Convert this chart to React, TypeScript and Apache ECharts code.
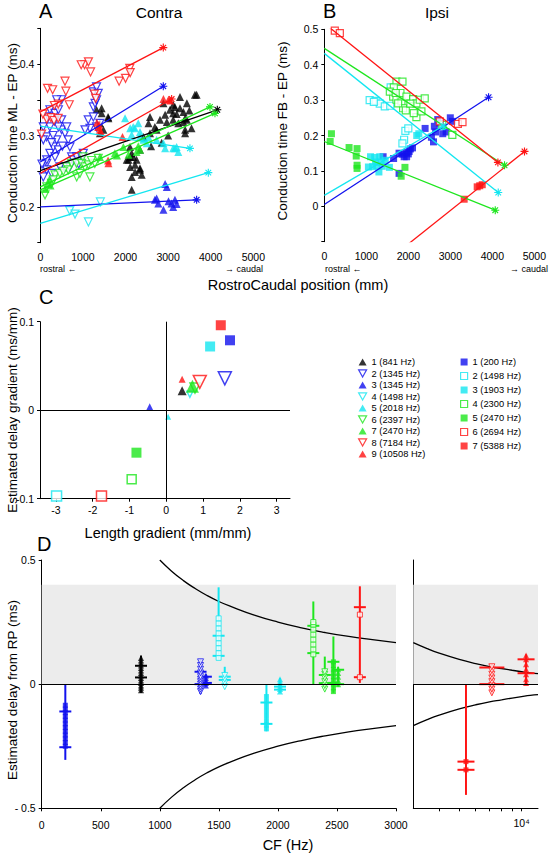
import React, { useEffect, useRef } from "react";
import * as echarts from "echarts";

const FONT = '"Liberation Sans", Arial, Helvetica, sans-serif';
const RED = "#ff1414";
const BLUE = "#1212ee";
const CYAN = "#14e6f0";
const GREEN = "#1ee61e";
const BLACK = "#000000";

// ---------- legend names ----------
const contraNames = ["1 (841 Hz)", "2 (1345 Hz)", "3 (1345 Hz)", "4 (1498 Hz)", "5 (2018 Hz)", "6 (2397 Hz)", "7 (2470 Hz)", "8 (7184 Hz)", "9 (10508 Hz)"];
const ipsiNames = ["1 (200 Hz)", "2 (1498 Hz)", "3 (1903 Hz)", "4 (2300 Hz)", "5 (2470 Hz)", "6 (2694 Hz)", "7 (5388 Hz)"];

// ---------- Panel A (Contra): [rostrocaudal position mm, conduction time ML-EP ms] ----------
const aContra1 = [[1320,0.336],[1440,0.331],[1600,0.324],[1400,0.317],[1480,0.308],[1400,0.303],[1590,0.326],[1440,0.338],[2105,0.284],[2180,0.27],[2030,0.266],[2145,0.242],[2145,0.224],[2340,0.252],[2070,0.266],[2110,0.256],[2145,0.275],[2340,0.254],[2225,0.249],[2260,0.266],[2380,0.245],[2225,0.259],[2340,0.28],[2110,0.27],[2420,0.298],[2575,0.303],[2690,0.312],[2810,0.322],[2930,0.329],[3045,0.336],[3120,0.331],[3280,0.338],[3360,0.333],[3440,0.345],[3630,0.357],[3280,0.354],[2890,0.345],[3120,0.322],[3240,0.317],[3400,0.308],[2730,0.308],[2575,0.326],[2540,0.317],[2970,0.319],[3440,0.322],[3360,0.319],[3160,0.34],[3120,0.343],[3670,0.357],[3550,0.31],[3400,0.303],[3400,0.324],[3000,0.3],[2850,0.29],[2600,0.285],[3500,0.335],[3200,0.33]];
const aContra2 = [[70,0.242],[150,0.261],[225,0.275],[305,0.284],[385,0.294],[500,0.308],[580,0.303],[150,0.298],[225,0.312],[70,0.312],[190,0.326],[225,0.336],[345,0.331],[425,0.336],[500,0.322],[425,0.312],[620,0.312],[655,0.294],[695,0.284],[735,0.27],[775,0.266],[855,0.27],[580,0.256],[460,0.256],[345,0.27],[265,0.247],[150,0.252],[970,0.27],[1010,0.275],[1125,0.322],[1245,0.326],[1320,0.312],[1400,0.317],[1245,0.34],[1285,0.345],[1320,0.35],[1245,0.361],[1320,0.368],[1360,0.359],[1165,0.31],[1050,0.308],[500,0.35],[385,0.35],[150,0.266],[70,0.294],[695,0.256],[300,0.3],[420,0.28],[520,0.285],[330,0.32],[260,0.29],[40,0.26],[900,0.26]];
const aContra3 = [[2930,0.232],[2970,0.228],[2690,0.21],[2770,0.205],[2890,0.196],[3010,0.208],[3080,0.205],[3160,0.21],[3200,0.204],[3120,0.2],[2730,0.212]];
const aContra4 = [[690,0.195],[815,0.19],[1130,0.179],[1410,0.207]];
const aContra5 = [[1990,0.324],[2110,0.31],[2180,0.312],[2220,0.31],[2300,0.317],[2340,0.305],[2340,0.298],[2145,0.301],[2420,0.294],[2500,0.289],[2540,0.298],[2730,0.294],[2890,0.289],[2930,0.282],[3120,0.282],[3160,0.282],[3200,0.284],[3240,0.277]];
const aContra6 = [[110,0.217],[150,0.228],[265,0.233],[345,0.245],[460,0.247],[620,0.256],[655,0.252],[735,0.261],[850,0.261],[855,0.242],[930,0.247],[970,0.261],[1050,0.256],[1130,0.259],[1165,0.242],[1280,0.261],[1360,0.268],[305,0.238],[540,0.25],[1000,0.27],[1200,0.265]];
const aContra7 = [[120,0.225],[180,0.232],[240,0.23],[210,0.238],[1400,0.27],[1750,0.275],[1800,0.272],[1950,0.284],[2070,0.273],[2260,0.277],[2340,0.28],[2300,0.285]];
const aContra8 = [[30,0.302],[150,0.323],[250,0.325],[320,0.321],[420,0.324],[170,0.366],[290,0.364],[600,0.362],[580,0.376],[420,0.344],[330,0.342],[680,0.343],[1040,0.399],[1130,0.403],[1180,0.389],[960,0.399],[1270,0.358],[1300,0.352],[1850,0.376],[2000,0.38],[2100,0.394],[2110,0.388],[60,0.33]];
const aContra9 = [[1360,0.312],[1400,0.308],[1380,0.315],[1420,0.305],[1330,0.318],[1600,0.261],[1590,0.265],[1930,0.298],[2890,0.351],[3010,0.35],[3050,0.349]];
const aPoints = [aContra1, aContra2, aContra3, aContra4, aContra5, aContra6, aContra7, aContra8, aContra9];

// regression lines A (start, end)
const aFits = [
  [[0,0.251],[4155,0.336]],
  [[0,0.263],[2887,0.369]],
  [[0,0.2],[3670,0.21]],
  [[0,0.177],[3944,0.248]],
  [[0,0.313],[3513,0.282]],
  [[0,0.228],[3983,0.34]],
  [[0,0.224],[4100,0.331]],
  [[0,0.333],[2887,0.423]],
  [[0,0.247],[3083,0.351]],
];

// ---------- Panel B (Ipsi): [position mm, conduction time FB-EP ms] ----------
const bIpsi1 = [[1400,0.14],[1650,0.135],[1780,0.15],[1850,0.147],[1900,0.14],[1950,0.152],[2000,0.148],[2050,0.162],[2100,0.165],[1780,0.093],[2400,0.22],[2550,0.195],[2600,0.182],[2620,0.226],[2700,0.245],[2750,0.235],[2820,0.205],[2900,0.21],[3000,0.25],[3050,0.24],[1960,0.14],[2020,0.155],[2650,0.21]];
const bIpsi2 = [[1080,0.3],[1220,0.298],[1320,0.29],[1440,0.282],[1570,0.284],[1580,0.336],[1930,0.213],[1900,0.188],[2000,0.22],[1860,0.178],[1180,0.295]];
const bIpsi3 = [[1050,0.111],[1100,0.14],[1150,0.112],[1200,0.138],[1250,0.115],[1300,0.097],[1320,0.14],[1380,0.113],[1450,0.13],[1550,0.11],[2200,0.2],[2250,0.205],[2800,0.225],[1220,0.125],[1350,0.125]];
const bIpsi4 = [[1718,0.352],[1861,0.352],[1655,0.336],[1813,0.32],[1639,0.31],[1718,0.301],[1837,0.296],[1956,0.31],[1876,0.277],[1940,0.271],[2114,0.303],[2193,0.291],[2272,0.301],[2193,0.252],[2130,0.263],[2312,0.268],[2391,0.305],[1758,0.291],[1560,0.324],[3048,0.202],[2811,0.23],[2050,0.29],[1700,0.32]];
const bIpsi5 = [[170,0.205],[140,0.183],[590,0.166],[780,0.163],[760,0.142],[780,0.116],[780,0.107],[1920,0.11],[1830,0.085]];
const bIpsi6 = [[250,0.496],[370,0.489],[2750,0.24],[3180,0.233],[3290,0.238]];
const bIpsi7 = [[3330,0.02],[3640,0.055],[3700,0.058],[3760,0.061]];
const bPoints = [bIpsi1, bIpsi2, bIpsi3, bIpsi4, bIpsi5, bIpsi6, bIpsi7];

const bFits = [
  [[0,0.005],[3911,0.308]],
  [[0,0.432],[4141,0.039]],
  [[0,0.031],[2827,0.227]],
  [[0,0.446],[4291,0.116]],
  [[0,0.183],[4070,-0.011]],
  [[0,0.517],[4133,0.124]],
  [[1900,-0.116],[4766,0.155]],
];

// ---------- Panel C: [length gradient mm/mm, delay gradient ms/mm] ----------
const cContra = [[0.43,0.022],[1.59,0.036],[-0.45,0.004],[0.64,0.018],[0.05,-0.0075],[0.78,0.025],[0.71,0.027],[0.91,0.032],[0.43,0.035]];
const cIpsi = [[1.73,0.079],[-2.98,-0.097],[1.19,0.072],[-0.94,-0.078],[-0.81,-0.048],[-1.76,-0.097],[1.48,0.096]];
const cXTicks = [-3, -2, -1, 0, 1, 2, 3];

// ---------- Panel D: estimated delay from RP (ms) by CF (Hz) ----------
const dGroups = [
  { side: "ipsi", idx: 0, cf: 200, range: [-0.305, 0], caps: [-0.11, -0.254], pts: [-0.085,-0.1,-0.115,-0.13,-0.145,-0.16,-0.175,-0.19,-0.205,-0.22,-0.235,-0.25] },
  { side: "contra", idx: 0, cf: 841, range: [-0.035, 0.115], caps: [0.027, 0.074], pts: [-0.025,-0.015,-0.005,0.005,0.015,0.025,0.035,0.045,0.055,0.065,0.075,0.085,0.095,0.105] },
  { side: "contra", idx: 1, cf: 1345, range: [-0.04, 0.1], caps: [0.0, 0.05], pts: [-0.03,-0.02,-0.01,0,0.01,0.02,0.03,0.045,0.06,0.075,0.09] },
  { side: "contra", idx: 2, cf: 1390, range: [-0.01, 0.04], caps: [0.005, 0.03], pts: [-0.005,0.005,0.015,0.025,0.035] },
  { side: "ipsi", idx: 1, cf: 1498, range: [0.1, 0.39], caps: [0.114, 0.195], pts: [0.106,0.125,0.145,0.165,0.185,0.205,0.225,0.245,0.265] },
  { side: "contra", idx: 3, cf: 1550, range: [0, 0.07], caps: [0.017, 0.03], pts: [-0.01,0.005,0.02,0.035] },
  { side: "ipsi", idx: 2, cf: 1903, range: [-0.19, 0], caps: [-0.074, -0.16], pts: [-0.05,-0.07,-0.09,-0.11,-0.13,-0.15,-0.165,-0.18] },
  { side: "contra", idx: 4, cf: 2018, range: [-0.035, 0.025], caps: [-0.01, -0.022], pts: [-0.03,-0.02,-0.01,0.0,0.01,0.02] },
  { side: "ipsi", idx: 3, cf: 2300, range: [0, 0.333], caps: [0.125, 0.235], pts: [0.12,0.14,0.16,0.18,0.2,0.22,0.24,0.25] },
  { side: "contra", idx: 5, cf: 2397, range: [-0.025, 0.111], caps: [0.004, 0.037], pts: [-0.02,-0.005,0.01,0.025,0.04,0.05] },
  { side: "ipsi", idx: 4, cf: 2470, range: [-0.035, 0.192], caps: [0.005, 0.09], pts: [-0.03,-0.015,0,0.015,0.03,0.045,0.06,0.075,0.09] },
  { side: "contra", idx: 6, cf: 2510, range: [-0.01, 0.07], caps: [0.0, 0.058], pts: [0,0.015,0.03,0.045,0.06] },
  { side: "ipsi", idx: 5, cf: 2694, range: [0.005, 0.394], caps: [0.028, 0.31], pts: [0.028, 0.28] },
  { side: "ipsi", idx: 6, cf: 5388, range: [-0.446, 0], caps: [-0.312, -0.345], pts: [-0.312, -0.345] },
  { side: "contra", idx: 7, cf: 7184, range: [-0.04, 0.08], caps: [0, 0.067], pts: [-0.035,-0.02,-0.005,0.01,0.025,0.04,0.055,0.07] },
  { side: "contra", idx: 8, cf: 10508, range: [0, 0.12], caps: [0.044, 0.1], pts: [0.005,0.02,0.04,0.06,0.08,0.1,0.115] },
];

// bounding curves (ms)
const dCurveCF = [1000,1100,1200,1300,1400,1500,1600,1800,2000,2200,2400,2600,2800,3000];
const dCurveUp = [0.5,0.455,0.417,0.385,0.357,0.333,0.313,0.278,0.25,0.227,0.208,0.192,0.179,0.167];
const dCurveLow = [-0.5,-0.455,-0.417,-0.385,-0.357,-0.333,-0.313,-0.278,-0.25,-0.227,-0.208,-0.192,-0.179,-0.167];
const dCurveCFR = [3000,3500,4000,5000,6000,7000,8000,9000,10000,11000,12000];
const dCurveUpR = [0.167,0.143,0.125,0.1,0.083,0.071,0.063,0.056,0.05,0.045,0.042];
const dCurveLowR = [-0.167,-0.143,-0.125,-0.1,-0.083,-0.071,-0.063,-0.056,-0.05,-0.045,-0.042];
const dBand = [0, 0.4];
const dRightTicks = [4000, 5000, 6000, 7000, 8000, 9000, 10000];
const dRightRange = [3000, 12000];

const aYLabels = [0.2, 0.3, 0.4];

// ---------- styles ----------
const contraStyles = [
  { color: BLACK, shape: "up", fill: true },
  { color: BLUE, shape: "down", fill: false },
  { color: BLUE, shape: "up", fill: true },
  { color: CYAN, shape: "down", fill: false },
  { color: CYAN, shape: "up", fill: true },
  { color: GREEN, shape: "down", fill: false },
  { color: GREEN, shape: "up", fill: true },
  { color: RED, shape: "down", fill: false },
  { color: RED, shape: "up", fill: true },
];
const ipsiStyles = [
  { color: BLUE, shape: "sq", fill: true },
  { color: CYAN, shape: "sq", fill: false },
  { color: CYAN, shape: "sq", fill: true },
  { color: GREEN, shape: "sq", fill: false },
  { color: GREEN, shape: "sq", fill: true },
  { color: RED, shape: "sq", fill: false },
  { color: RED, shape: "sq", fill: true },
];
const cContraSizes = [9, 13, 7, 6, 6, 10, 13, 13, 7];
const cIpsiSizes = [10, 10, 10, 9, 10, 10, 10];

const ASTER =
  "path://M-0.7,-5L0.7,-5L0.7,5L-0.7,5Z M-5,-0.7L5,-0.7L5,0.7L-5,0.7Z M-4,-3L-3,-4L4,3L3,4Z M3,-4L4,-3L-3,4L-4,3Z";
const DOWN_TRI = "path://M0,0L10,0L5,9Z";
const UP_TRI = "path://M5,0L10,9L0,9Z";

function markerProps(st: any, size: number, bw = 1.2) {
  return {
    symbol: st.shape === "sq" ? "rect" : "triangle",
    symbolRotate: st.shape === "down" ? 180 : 0,
    symbolSize: size,
    itemStyle: st.fill
      ? { color: st.color }
      : { color: "#ffffff", borderColor: st.color, borderWidth: bw },
  };
}

function legendItem(name: string, st: any) {
  return {
    name,
    icon: st.shape === "sq" ? "rect" : st.shape === "down" ? DOWN_TRI : UP_TRI,
    itemStyle: st.fill
      ? { color: st.color, borderWidth: 0 }
      : { color: "#ffffff", borderColor: st.color, borderWidth: 1.2 },
  };
}

const labelStyle = { color: "#000", fontSize: 10.5, fontFamily: FONT };
const axisLineStyle = { lineStyle: { color: "#000", width: 1 } };
const plain = (v: number) => String(v);

function buildOption() {
  const series: any[] = [];

  // ---- A ----
  aPoints.forEach((pts, i) => {
    series.push({ type: "scatter", xAxisIndex: 0, yAxisIndex: 0, data: pts, z: 3, ...markerProps(contraStyles[i], 8) });
  });
  aFits.forEach((f, i) => {
    const c = contraStyles[i].color;
    series.push({
      type: "line", xAxisIndex: 0, yAxisIndex: 0, z: 4, clip: true,
      data: [{ value: f[0], symbol: "none" }, { value: f[1], symbol: ASTER, symbolSize: 8 }],
      lineStyle: { color: c, width: 1.3 }, itemStyle: { color: c },
    });
  });

  // ---- B ----
  bPoints.forEach((pts, i) => {
    series.push({ type: "scatter", xAxisIndex: 1, yAxisIndex: 1, data: pts, z: 3, ...markerProps(ipsiStyles[i], 7) });
  });
  bFits.forEach((f, i) => {
    const c = ipsiStyles[i].color;
    series.push({
      type: "line", xAxisIndex: 1, yAxisIndex: 1, z: 4, clip: true,
      data: [{ value: f[0], symbol: "none" }, { value: f[1], symbol: ASTER, symbolSize: 8 }],
      lineStyle: { color: c, width: 1.3 }, itemStyle: { color: c },
    });
  });

  // ---- C ----
  series.push({
    type: "scatter", xAxisIndex: 2, yAxisIndex: 2, data: [], z: 1,
    markLine: {
      silent: true, symbol: ["none", "none"], label: { show: false },
      lineStyle: { color: "#000", type: "solid", width: 1 },
      data: [{ yAxis: 0 }, { xAxis: 0 }],
    },
  });
  cContra.forEach((p, i) => {
    series.push({ type: "scatter", name: contraNames[i], xAxisIndex: 2, yAxisIndex: 2, data: [p], z: 3, ...markerProps(contraStyles[i], cContraSizes[i], 1.5) });
  });
  cIpsi.forEach((p, i) => {
    series.push({ type: "scatter", name: ipsiNames[i], xAxisIndex: 2, yAxisIndex: 2, data: [p], z: 3, ...markerProps(ipsiStyles[i], cIpsiSizes[i], 1.5) });
  });

  // ---- D ----
  const lg = (v: number) => Math.log10(v);
  series.push({
    type: "line", xAxisIndex: 3, yAxisIndex: 3, z: 1, smooth: true, showSymbol: false,
    data: dCurveCF.map((c, i) => [c, dCurveUp[i]]),
    lineStyle: { color: "#000", width: 1.3 },
    markArea: { silent: true, itemStyle: { color: "#ececec" }, data: [[{ yAxis: dBand[0] }, { yAxis: dBand[1] }]] },
  });
  series.push({
    type: "line", xAxisIndex: 3, yAxisIndex: 3, z: 2, smooth: true, showSymbol: false,
    data: dCurveCF.map((c, i) => [c, dCurveLow[i]]),
    lineStyle: { color: "#000", width: 1.3 },
    markLine: { silent: true, symbol: ["none", "none"], label: { show: false }, lineStyle: { color: "#000", type: "solid", width: 1 }, data: [{ yAxis: 0 }] },
  });
  series.push({
    type: "line", xAxisIndex: 4, yAxisIndex: 4, z: 1, smooth: true, showSymbol: false,
    data: dCurveCFR.map((c, i) => [lg(c), dCurveUpR[i]]),
    lineStyle: { color: "#000", width: 1.3 },
    markArea: { silent: true, itemStyle: { color: "#ececec" }, data: [[{ yAxis: dBand[0] }, { yAxis: dBand[1] }]] },
  });
  series.push({
    type: "line", xAxisIndex: 4, yAxisIndex: 4, z: 2, smooth: true, showSymbol: false,
    data: dCurveCFR.map((c, i) => [lg(c), dCurveLowR[i]]),
    lineStyle: { color: "#000", width: 1.3 },
    markLine: { silent: true, symbol: ["none", "none"], label: { show: false }, lineStyle: { color: "#000", type: "solid", width: 1 }, data: [{ yAxis: 0 }] },
  });

  dGroups.forEach((g) => {
    const st = g.side === "contra" ? contraStyles[g.idx] : ipsiStyles[g.idx];
    const right = g.cf > 3000;
    const xi = right ? 4 : 3;
    const x = right ? lg(g.cf) : g.cf;
    const capW = right ? (g.side === "contra" && g.idx === 7 ? 25 : 17) : 12;
    const color = st.color;
    series.push({
      type: "custom", xAxisIndex: xi, yAxisIndex: xi, z: 3,
      data: [[x, g.range[0], g.range[1], g.caps[0], g.caps[1]]],
      encode: { x: 0, y: [1, 2] },
      renderItem: (params: any, api: any) => {
        const xv = api.value(0);
        const a = api.coord([xv, api.value(1)]);
        const b = api.coord([xv, api.value(2)]);
        const c1 = api.coord([xv, api.value(3)]);
        const c2 = api.coord([xv, api.value(4)]);
        const hw = capW / 2;
        const s = { stroke: color, lineWidth: 2 };
        return {
          type: "group",
          children: [
            { type: "line", shape: { x1: a[0], y1: a[1], x2: b[0], y2: b[1] }, style: s },
            { type: "line", shape: { x1: c1[0] - hw, y1: c1[1], x2: c1[0] + hw, y2: c1[1] }, style: s },
            { type: "line", shape: { x1: c2[0] - hw, y1: c2[1], x2: c2[0] + hw, y2: c2[1] }, style: s },
          ],
        };
      },
    });
    series.push({
      type: "scatter", xAxisIndex: xi, yAxisIndex: xi, z: 4,
      data: g.pts.map((v) => [x, v]),
      ...markerProps(st, st.shape === "sq" ? 5 : 6, 1),
    });
  });

  const txt = (text: string, x: number, y: number, size: number, align = "center", rot = 0) => ({
    type: "text", x, y, rotation: rot, silent: true,
    style: { text, font: `${size}px ${FONT}`, fill: "#000", textAlign: align, textVerticalAlign: "middle" },
  });

  return {
    animation: false,
    backgroundColor: "#ffffff",
    grid: [
      { left: 40.3, top: 28.3, width: 213, height: 214.4 },
      { left: 324.3, top: 29.3, width: 210.5, height: 212.4 },
      { left: 40, top: 321.7, width: 250, height: 177 },
      { left: 41.7, top: 560, width: 354.3, height: 248.3 },
      { left: 413.3, top: 560, width: 124.7, height: 248.3 },
    ],
    xAxis: [
      { gridIndex: 0, type: "value", min: 0, max: 5000, interval: 1000, axisLine: { show: false }, axisTick: { show: false }, splitLine: { show: false }, axisLabel: { ...labelStyle, margin: 9, formatter: plain } },
      { gridIndex: 1, type: "value", min: 0, max: 5000, interval: 1000, axisLine: { show: false }, axisTick: { show: false }, splitLine: { show: false }, axisLabel: { ...labelStyle, margin: 9, formatter: plain } },
      { gridIndex: 2, type: "value", min: -3.43, max: 3.36, axisLine: { onZero: false, ...axisLineStyle }, axisTick: { show: true, length: 3, customValues: cXTicks, lineStyle: { color: "#000" } }, splitLine: { show: false }, axisLabel: { ...labelStyle, margin: 6, customValues: cXTicks, formatter: plain } },
      { gridIndex: 3, type: "value", min: 0, max: 3000, interval: 500, axisLine: { onZero: false, ...axisLineStyle }, axisTick: { length: 3, lineStyle: { color: "#000" } }, splitLine: { show: false }, axisLabel: { ...labelStyle, margin: 11, formatter: plain } },
      { gridIndex: 4, type: "value", min: Math.log10(dRightRange[0]), max: Math.log10(dRightRange[1]), axisLine: { onZero: false, ...axisLineStyle }, axisTick: { length: 3, customValues: dRightTicks.map((v) => Math.log10(v)), lineStyle: { color: "#000" } }, splitLine: { show: false }, axisLabel: { ...labelStyle, margin: 9, customValues: [Math.log10(10000)], formatter: () => "10\u2074" } },
    ],
    yAxis: [
      { gridIndex: 0, type: "value", min: 0.15, max: 0.45, interval: 0.05, axisLine: { show: true, onZero: false, ...axisLineStyle }, axisTick: { show: true, length: 3, lineStyle: { color: "#000" } }, splitLine: { show: false },
        axisLabel: { ...labelStyle, margin: 6, formatter: (v: number) => (aYLabels.some((t) => Math.abs(t - v) < 1e-6) ? v.toFixed(1) : "") } },
      { gridIndex: 1, type: "value", min: -0.1, max: 0.5, interval: 0.1, axisLine: { show: true, onZero: false, ...axisLineStyle }, axisTick: { show: true, length: 3, lineStyle: { color: "#000" } }, splitLine: { show: false },
        axisLabel: { ...labelStyle, margin: 6, formatter: (v: number) => (v < -1e-6 ? "" : Math.abs(v) < 1e-6 ? "0" : v.toFixed(1)) } },
      { gridIndex: 2, type: "value", min: -0.1, max: 0.1, interval: 0.1, axisLine: { show: true, onZero: false, ...axisLineStyle }, axisTick: { show: true, length: 3, lineStyle: { color: "#000" } }, splitLine: { show: false },
        axisLabel: { ...labelStyle, margin: 6, formatter: (v: number) => (Math.abs(v) < 1e-6 ? "0" : v.toFixed(1)) } },
      { gridIndex: 3, type: "value", min: -0.5, max: 0.5, interval: 0.5, axisLine: { show: true, onZero: false, ...axisLineStyle }, axisTick: { show: true, length: 3, lineStyle: { color: "#000" } }, splitLine: { show: false },
        axisLabel: { ...labelStyle, margin: 6, formatter: (v: number) => (Math.abs(v) < 1e-6 ? "0" : v < 0 ? "- " + Math.abs(v).toFixed(1) : v.toFixed(1)) } },
      { gridIndex: 4, type: "value", min: -0.5, max: 0.5, axisLine: { show: true, onZero: false, ...axisLineStyle }, axisTick: { show: false }, splitLine: { show: false }, axisLabel: { show: false } },
    ],
    legend: [
      { data: contraNames.map((n, i) => legendItem(n, contraStyles[i])), orient: "vertical", left: 353, top: 352, itemWidth: 8, itemHeight: 8, itemGap: 1.5, selectedMode: false,
        textStyle: { fontSize: 9.3, lineHeight: 10, color: "#000", fontFamily: FONT } },
      { data: ipsiNames.map((n, i) => legendItem(n, ipsiStyles[i])), orient: "vertical", left: 455, top: 352, itemWidth: 7, itemHeight: 7, itemGap: 4.0, selectedMode: false,
        textStyle: { fontSize: 9.3, lineHeight: 10, color: "#000", fontFamily: FONT } },
    ],
    graphic: [
      txt("A", 39, 11, 20, "left"),
      txt("Contra", 159, 12, 15.5),
      txt("B", 323, 11, 20, "left"),
      txt("Ipsi", 437, 12, 15.5),
      txt("C", 39, 297, 20, "left"),
      txt("D", 37, 544, 20, "left"),
      txt("Conduction time ML - EP (ms)", 12, 133, 13.5, "center", Math.PI / 2),
      txt("Conduction time FB - EP (ms)", 282, 131, 13.5, "center", Math.PI / 2),
      txt("Estimated delay gradient (ms/mm)", 12, 410, 13.5, "center", Math.PI / 2),
      txt("Estimated delay from RP (ms)", 12, 690, 13.5, "center", Math.PI / 2),
      txt("RostroCaudal position (mm)", 298, 285, 14.5),
      txt("rostral \u2190", 40, 269, 9, "left"),
      txt("\u2192 caudal", 263, 269, 9, "right"),
      txt("rostral \u2190", 325, 269, 9, "left"),
      txt("\u2192 caudal", 548, 269, 9, "right"),
      txt("Length gradient (mm/mm)", 168, 533, 14.5),
      txt("CF (Hz)", 288, 845, 14.5),
    ],
    series,
  };
}

export default function App() {
  const ref = useRef<HTMLDivElement>(null);
  useEffect(() => {
    const chart = echarts.init(ref.current as HTMLDivElement, null, { renderer: "svg" });
    chart.setOption(buildOption() as any);
    return () => chart.dispose();
  }, []);
  return (
    <div
      ref={ref}
      style={{ position: "fixed", left: 0, top: 0, width: 549, height: 853, background: "#fff" }}
    />
  );
}
